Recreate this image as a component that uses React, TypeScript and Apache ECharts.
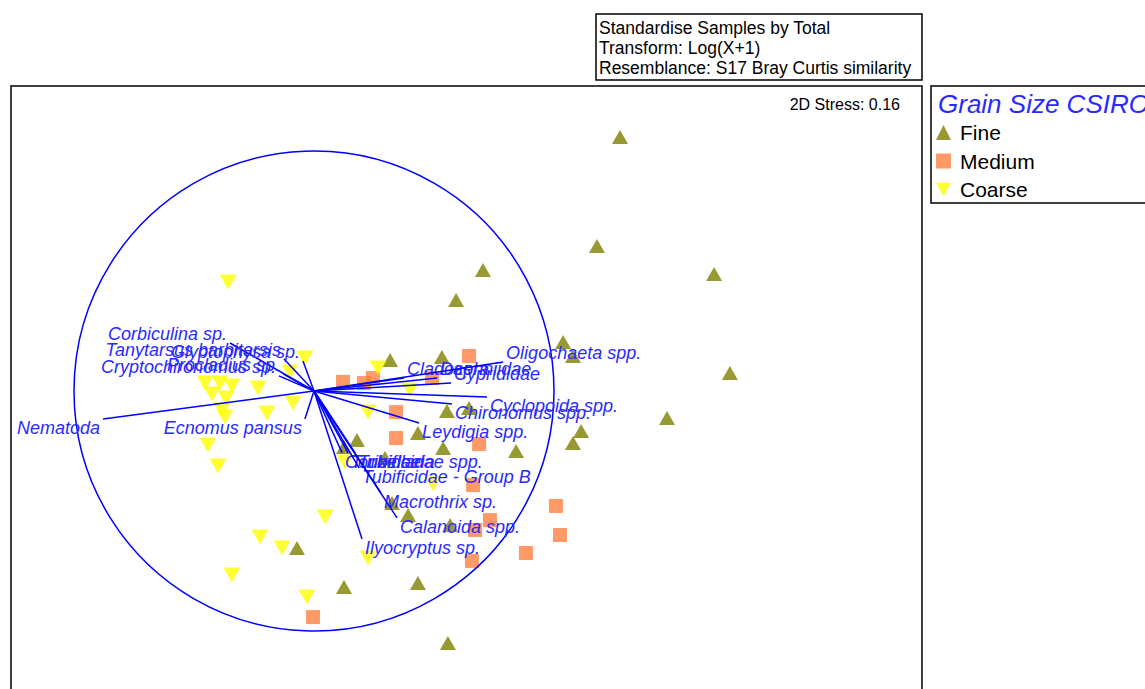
import React, { useEffect, useRef } from "react";
import * as echarts from "echarts";

// MDS ordination coordinates (unit = radius of the correlation circle)
const fineSamples: number[][] = [
  [1.275, 1.058], [1.179, 0.604], [0.704, 0.504], [1.667, 0.488], [0.592, 0.379],
  [1.038, 0.204], [1.079, 0.146], [1.733, 0.075], [0.317, 0.129], [0.533, 0.142],
  [1.471, -0.113], [1.113, -0.167], [1.079, -0.217], [0.433, -0.175], [0.554, -0.083],
  [0.646, -0.071], [0.842, -0.25], [0.179, -0.204], [0.125, -0.233], [0.296, -0.279],
  [0.538, -0.238], [0.325, -0.467], [0.392, -0.517], [0.567, -0.558], [-0.071, -0.654],
  [0.125, -0.817], [0.433, -0.8], [0.558, -1.05],
];

const mediumSamples: number[][] = [
  [0.646, 0.146], [0.121, 0.038], [0.208, 0.033], [0.246, 0.054], [0.492, 0.054],
  [0.342, -0.088], [0.342, -0.196], [0.688, -0.221], [0.663, -0.392], [0.733, -0.538],
  [0.671, -0.579], [1.008, -0.479], [1.025, -0.6], [0.883, -0.675], [0.658, -0.708],
  [-0.004, -0.942],
];

const coarseSamples: number[][] = [
  [-0.358, 0.454], [-0.038, 0.138], [-0.1, 0.079], [0.267, 0.096], [-0.454, 0.033],
  [-0.392, 0.033], [-0.342, 0.021], [-0.425, -0.013], [-0.367, -0.029], [-0.383, -0.079],
  [-0.233, 0.013], [-0.371, -0.108], [-0.196, -0.092], [-0.088, -0.05], [0.4, 0.004],
  [0.225, -0.088], [-0.442, -0.225], [-0.4, -0.313], [0.129, -0.296], [0.496, -0.388],
  [0.046, -0.525], [-0.225, -0.608], [-0.133, -0.654], [-0.342, -0.767], [-0.029, -0.858],
  [0.225, -0.696],
];

// Species correlation vectors (Pearson) drawn from the origin
const vectorNames: string[] = [
  "Nematoda", "Ecnomus pansus", "Corbiculina sp.", "Tanytarsus barbitarsis",
  "Glyptophysa sp.", "Cryptochironomus sp.", "Procladius sp.", "Cladocera",
  "Daphniidae", "Cyprididae", "Oligochaeta spp.", "Cyclopoida spp.",
  "Chironomus spp.", "Leydigia spp.", "Corixidae", "Turbellaria",
  "Tubificidae spp.", "Tubificidae - Group B", "Macrothrix sp.",
  "Calanoida spp.", "Ilyocryptus sp.",
];
const vectorX: number[] = [
  -0.879, -0.038, -0.35, -0.125, -0.046, -0.146, -0.129, 0.375, 0.513, 0.571,
  0.788, 0.721, 0.575, 0.438, 0.117, 0.142, 0.171, 0.188, 0.279, 0.346, 0.2,
];
const vectorY: number[] = [
  -0.117, -0.117, 0.2, 0.133, 0.125, 0.063, 0.071, 0.054, 0.054, 0.033,
  0.121, -0.025, -0.054, -0.133, -0.258, -0.258, -0.258, -0.321, -0.425, -0.529, -0.617,
];

const headerLines: string[] = [
  "Standardise Samples by Total",
  "Transform: Log(X+1)",
  "Resemblance: S17 Bray Curtis similarity",
];
const stressLabel = "2D Stress: 0.16";
const legendTitle = "Grain Size CSIRO";
const groupNames: string[] = ["Fine", "Medium", "Coarse"];

// Axis ranges in ordination units (equal scale on both axes)
const X_MIN = -1.2625;
const X_MAX = 2.53333;
const Y_MIN = -1.3125;
const Y_MAX = 1.27083;

const FONT = "'Liberation Sans', Arial, sans-serif";
const BLUE_LINE = "#0000ff";
const BLUE_TEXT = "#2a2aff";

export default function App() {
  const ref = useRef<HTMLDivElement>(null);

  useEffect(() => {
    if (!ref.current) return;
    const chart = echarts.init(ref.current, undefined, { renderer: "svg" });

    const vectorData = vectorNames.map((name, i) => ({ name, value: [vectorX[i], vectorY[i]] }));

    const option: any = {
      animation: false,
      backgroundColor: "#ffffff",
      grid: {
        left: 11,
        top: 86,
        width: 911,
        height: 620,
        show: true,
        borderColor: "#000",
        borderWidth: 1.5,
        backgroundColor: "transparent",
      },
      xAxis: { type: "value", min: X_MIN, max: X_MAX, show: false, splitLine: { show: false } },
      yAxis: { type: "value", min: Y_MIN, max: Y_MAX, show: false, splitLine: { show: false } },
      legend: {
        orient: "vertical",
        left: 936,
        top: 122,
        padding: 0,
        itemWidth: 15,
        itemHeight: 15,
        itemGap: 7.5,
        textStyle: { fontSize: 21, fontFamily: FONT, color: "#000", lineHeight: 20, padding: [0, 0, 0, 4] },
        data: [
          { name: groupNames[0], icon: "triangle" },
          { name: groupNames[1], icon: "rect" },
          { name: groupNames[2], icon: "path://M0,0 L10,0 L5,9 Z" },
        ],
      },
      series: [
        {
          name: groupNames[0],
          type: "scatter",
          data: fineSamples,
          symbol: "triangle",
          symbolSize: [16, 14],
          itemStyle: { color: "#7f7f00" },
        },
        {
          name: groupNames[1],
          type: "scatter",
          data: mediumSamples,
          symbol: "rect",
          symbolSize: [14, 14],
          itemStyle: { color: "#ff8040" },
        },
        {
          name: groupNames[2],
          type: "scatter",
          data: coarseSamples,
          symbol: "triangle",
          symbolRotate: 180,
          symbolSize: [17, 15],
          itemStyle: { color: "#ffff00" },
        },
        {
          // correlation circle of radius 1
          type: "custom",
          silent: true,
          data: [[0, 0]],
          z: 5,
          renderItem: (_params: any, api: any) => {
            const c = api.coord([0, 0]);
            const r = api.size([1, 1])[0];
            return {
              type: "circle",
              shape: { cx: c[0], cy: c[1], r },
              style: { fill: "none", stroke: BLUE_LINE, lineWidth: 1.5 },
            };
          },
        },
        {
          // species vectors with labels at their tips
          type: "custom",
          silent: true,
          data: vectorData,
          z: 6,
          renderItem: (params: any, api: any) => {
            const vx = api.value(0);
            const vy = api.value(1);
            const o = api.coord([0, 0]);
            const e = api.coord([vx, vy]);
            const name = vectorData[params.dataIndex].name;
            return {
              type: "group",
              children: [
                {
                  type: "line",
                  shape: { x1: o[0], y1: o[1], x2: e[0], y2: e[1] },
                  style: { stroke: BLUE_LINE, lineWidth: 1.5 },
                },
                {
                  type: "text",
                  x: e[0] + (vx >= 0 ? 3 : -3),
                  y: e[1],
                  style: {
                    text: name,
                    align: vx >= 0 ? "left" : "right",
                    verticalAlign: vy >= 0 ? "bottom" : "top",
                    fontSize: 18,
                    fontStyle: "italic",
                    fontFamily: FONT,
                    fill: BLUE_TEXT,
                  },
                },
              ],
            };
          },
        },
      ],
      graphic: [
        {
          type: "rect",
          shape: { x: 596, y: 14, width: 326, height: 66 },
          style: { fill: "#fff", stroke: "#000", lineWidth: 1.5 },
        },
        ...headerLines.map((t, i) => ({
          type: "text",
          x: 599,
          y: 28 + i * 20,
          style: {
            text: t,
            fontSize: 17.5,
            fontFamily: FONT,
            fill: "#000",
            align: "left",
            verticalAlign: "middle",
          },
        })),
        {
          type: "text",
          x: 900,
          y: 104,
          style: {
            text: stressLabel,
            fontSize: 16,
            fontFamily: FONT,
            fill: "#000",
            align: "right",
            verticalAlign: "middle",
          },
        },
        {
          type: "rect",
          shape: { x: 931, y: 86, width: 240, height: 117 },
          style: { fill: "none", stroke: "#000", lineWidth: 1.5 },
        },
        {
          type: "text",
          x: 938,
          y: 104,
          style: {
            text: legendTitle,
            fontSize: 26,
            fontStyle: "italic",
            fontFamily: FONT,
            fill: BLUE_TEXT,
            align: "left",
            verticalAlign: "middle",
          },
        },
      ],
    };

    chart.setOption(option);
    return () => chart.dispose();
  }, []);

  // the frame's lower edge runs past the visible window, so the chart box is taller than the page
  return (
    <div
      ref={ref}
      style={{ position: "fixed", left: 0, top: 0, width: 1145, height: 720, background: "#fff" }}
    />
  );
}
